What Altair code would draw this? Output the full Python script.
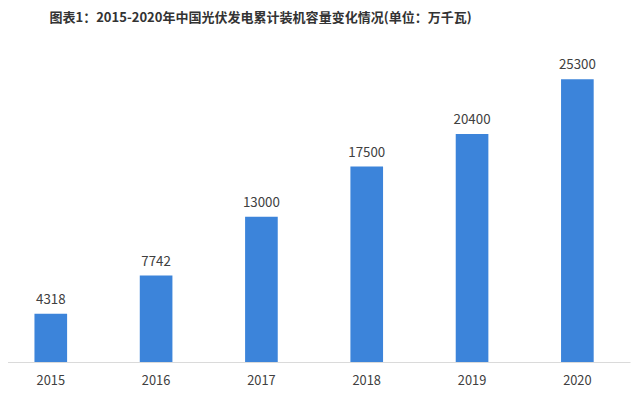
import altair as alt
import pandas as pd

years = ["2015", "2016", "2017", "2018", "2019", "2020"]
values = [4318, 7742, 13000, 17500, 20400, 25300]
title_text = "图表1：2015-2020年中国光伏发电累计装机容量变化情况(单位：万千瓦)"

df = pd.DataFrame({"year": years, "value": values})

FONT = "Noto Sans CJK SC"

x = alt.X(
    "year:N",
    sort=years,
    title=None,
    scale=alt.Scale(range=[-10, 630], paddingInner=0.69, paddingOuter=0.345),
    axis=alt.Axis(
        labelAngle=0,
        labelFontSize=13,
        labelColor="#404040",
        labelFont=FONT,
        labelPadding=13,
        ticks=False,
        domainColor="#d9d9d9",
        domainWidth=1,
        grid=False,
    ),
)
y = alt.Y(
    "value:Q",
    title=None,
    scale=alt.Scale(domain=[0, 27925], nice=False),
    axis=None,
)

bars = alt.Chart(df).mark_bar(color="#3C84DA").encode(x=x, y=y)
labels = alt.Chart(df).mark_text(
    dy=-14, fontSize=13.5, color="#404040", font=FONT
).encode(x=x, y=y, text=alt.Text("value:Q", format="d"))

chart = (
    alt.layer(bars, labels)
    .properties(
        width=632,
        height=316,
        background="white",
        padding={"left": 0, "top": 40, "right": 0, "bottom": 40},
        autosize=alt.AutoSizeParams(type="none"),
        title=alt.TitleParams(
            title_text,
            anchor="start",
            frame="group",
            dx=42,
            offset=25,
            fontSize=13.2,
            fontWeight="bold",
            font=FONT,
            color="#333333",
        ),
    )
    .configure_view(stroke="transparent", strokeWidth=0)
)

chart.save("out.html", embed_options={"renderer": "svg", "actions": False})
